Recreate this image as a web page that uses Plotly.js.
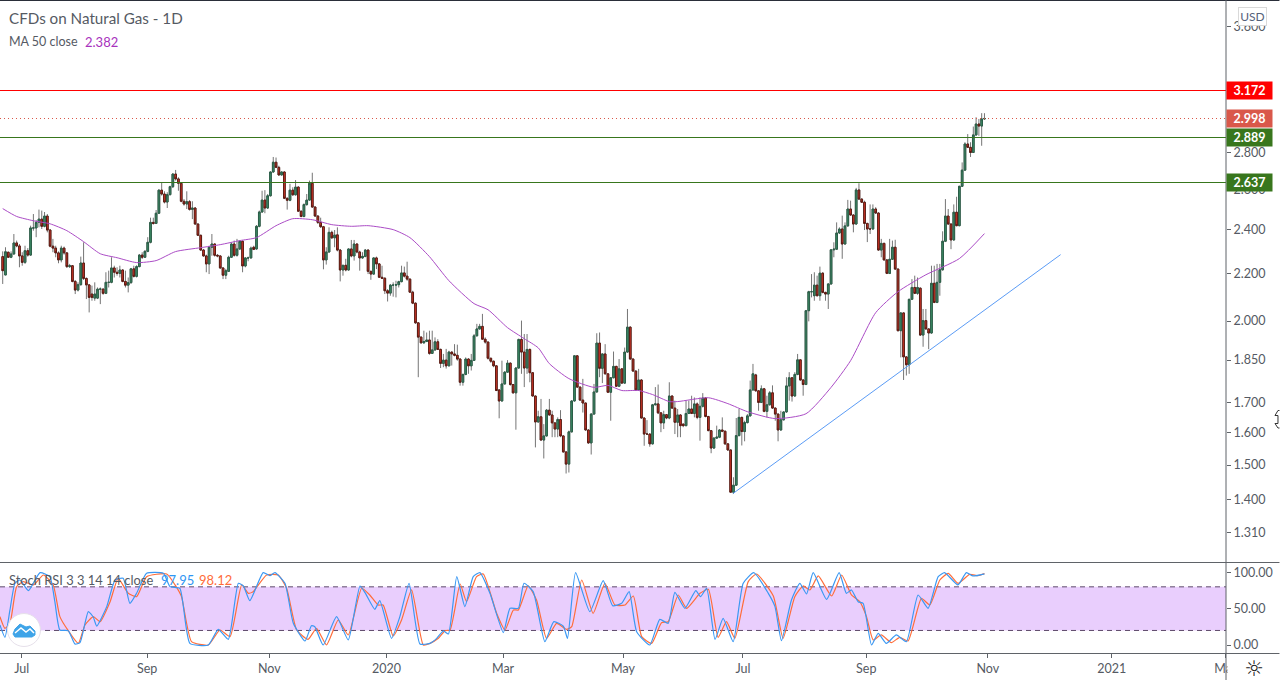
<!DOCTYPE html>
<html>
<head>
<meta charset="utf-8">
<script src="https://cdn.plot.ly/plotly-3.0.1.min.js"></script>
<style>
html, body { margin: 0; padding: 0; background: #fff; overflow: hidden; }
#chart { width: 1280px; height: 680px; }
</style>
</head>
<body>
<div id="chart"></div>
<script>
/* daily candles, natural gas */
var openPrices = [
2.275,2.193,2.295,2.272,2.287,2.338,2.324,2.278,2.249,2.302,2.282,2.409,2.409,2.436,2.452,2.417,2.467,2.399,2.323,2.314,
2.292,2.260,2.314,2.292,2.230,2.234,2.165,2.128,2.151,2.246,2.178,2.150,2.111,2.094,2.094,2.132,2.132,2.114,2.161,2.161,
2.224,2.205,2.200,2.215,2.165,2.149,2.160,2.220,2.187,2.230,2.282,2.272,2.299,2.341,2.436,2.431,2.481,2.598,2.578,2.537,
2.575,2.616,2.683,2.657,2.634,2.541,2.527,2.539,2.500,2.507,2.428,2.374,2.305,2.278,2.242,2.318,2.333,2.281,2.278,2.224,
2.192,2.209,2.272,2.333,2.281,2.310,2.346,2.233,2.269,2.269,2.318,2.310,2.417,2.487,2.547,2.507,2.569,2.694,2.747,2.719,
2.678,2.694,2.556,2.546,2.598,2.574,2.614,2.491,2.465,2.524,2.547,2.634,2.512,2.467,2.436,2.415,2.260,2.296,2.388,2.362,
2.376,2.305,2.215,2.236,2.215,2.310,2.278,2.333,2.296,2.269,2.276,2.305,2.209,2.197,2.269,2.242,2.183,2.179,2.125,2.115,
2.149,2.149,2.151,2.164,2.202,2.188,2.175,2.119,2.073,1.993,1.937,1.915,1.920,1.926,1.875,1.888,1.919,1.890,1.838,1.850,
1.829,1.880,1.873,1.868,1.854,1.770,1.798,1.854,1.829,1.849,1.942,1.969,1.979,1.929,1.918,1.857,1.846,1.829,1.743,1.705,
1.764,1.806,1.839,1.762,1.733,1.821,1.928,1.880,1.821,1.890,1.804,1.722,1.635,1.652,1.577,1.590,1.674,1.658,1.632,1.612,
1.643,1.590,1.540,1.503,1.603,1.705,1.866,1.753,1.708,1.698,1.609,1.568,1.661,1.736,1.914,1.820,1.873,1.800,1.735,1.786,
1.827,1.756,1.818,1.767,1.880,1.976,1.854,1.810,1.743,1.778,1.648,1.596,1.596,1.565,1.692,1.695,1.665,1.632,1.659,
1.648,1.722,1.681,1.634,1.658,1.628,1.623,1.663,1.678,1.663,1.695,1.650,1.687,1.715,1.653,1.607,1.552,1.583,1.586,1.609,
1.605,1.565,1.546,1.421,1.441,1.591,1.650,1.604,1.633,1.655,1.743,1.796,1.740,1.700,1.747,1.670,1.692,1.733,1.681,1.661,
1.609,1.642,1.668,1.757,1.786,1.722,1.798,1.851,1.778,1.762,2.042,2.121,2.104,2.149,2.104,2.201,2.118,2.111,2.154,2.306,
2.309,2.385,2.404,2.333,2.419,2.502,2.472,2.428,2.599,2.552,2.536,2.431,2.404,2.404,2.502,2.482,2.305,2.336,2.260,2.200,
2.263,2.318,2.219,1.962,2.033,1.862,1.833,2.089,2.139,2.114,2.136,1.945,2.002,1.969,1.953,2.157,2.076,2.161,2.216,2.346,
2.467,2.428,2.352,2.486,2.420,2.618,2.704,2.849,2.830,2.801,2.901,2.965,2.953,2.995
];
var closePrices = [
2.212,2.297,2.272,2.287,2.338,2.324,2.278,2.249,2.302,2.282,2.409,2.409,2.436,2.452,2.417,2.467,2.399,2.323,2.314,2.292,
2.260,2.314,2.292,2.230,2.234,2.165,2.128,2.151,2.246,2.178,2.150,2.097,2.097,2.111,2.132,2.132,2.114,2.161,2.161,2.224,
2.205,2.200,2.215,2.165,2.149,2.160,2.220,2.187,2.230,2.282,2.272,2.299,2.341,2.436,2.431,2.481,2.598,2.578,2.537,2.575,
2.616,2.683,2.657,2.634,2.541,2.527,2.539,2.500,2.507,2.428,2.374,2.305,2.278,2.242,2.318,2.333,2.281,2.278,2.224,2.192,
2.212,2.272,2.333,2.281,2.310,2.346,2.233,2.269,2.269,2.314,2.308,2.417,2.487,2.547,2.507,2.569,2.694,2.747,2.719,2.678,
2.694,2.556,2.546,2.598,2.574,2.614,2.491,2.465,2.524,2.547,2.634,2.512,2.467,2.436,2.415,2.260,2.296,2.388,2.362,2.375,
2.305,2.215,2.236,2.215,2.310,2.278,2.333,2.296,2.269,2.276,2.305,2.209,2.197,2.269,2.242,2.183,2.179,2.125,2.115,2.149,
2.149,2.151,2.164,2.202,2.188,2.175,2.119,2.073,1.993,1.937,1.915,1.920,1.926,1.875,1.888,1.919,1.890,1.838,1.850,1.829,
1.880,1.873,1.868,1.854,1.770,1.798,1.854,1.829,1.849,1.942,1.969,1.979,1.929,1.918,1.857,1.846,1.829,1.741,1.705,1.764,
1.806,1.839,1.762,1.733,1.821,1.928,1.880,1.821,1.890,1.804,1.722,1.635,1.652,1.577,1.590,1.674,1.658,1.632,1.612,1.643,
1.590,1.540,1.503,1.603,1.705,1.866,1.753,1.708,1.698,1.609,1.568,1.661,1.736,1.914,1.820,1.873,1.800,1.735,1.786,1.827,
1.756,1.818,1.767,1.880,1.976,1.854,1.810,1.743,1.778,1.648,1.596,1.596,1.565,1.692,1.695,1.665,1.632,1.659,1.648,
1.722,1.681,1.634,1.658,1.623,1.623,1.663,1.678,1.663,1.695,1.650,1.687,1.715,1.653,1.607,1.552,1.583,1.586,1.609,1.605,
1.565,1.546,1.421,1.441,1.591,1.650,1.604,1.633,1.655,1.743,1.800,1.740,1.700,1.747,1.670,1.692,1.733,1.681,1.661,1.609,
1.642,1.668,1.757,1.786,1.722,1.798,1.851,1.778,1.762,2.042,2.121,2.121,2.149,2.104,2.201,2.118,2.111,2.154,2.306,2.309,
2.385,2.404,2.333,2.419,2.502,2.472,2.428,2.599,2.552,2.536,2.431,2.404,2.404,2.502,2.482,2.305,2.336,2.260,2.200,2.263,
2.318,2.219,1.962,2.033,1.862,1.833,2.089,2.139,2.114,2.139,1.945,2.002,1.969,1.953,2.157,2.076,2.161,2.216,2.346,2.467,
2.428,2.352,2.486,2.420,2.618,2.704,2.849,2.830,2.801,2.901,2.965,2.953,2.995,2.998
];
var highPrices = [
2.299,2.318,2.297,2.299,2.380,2.349,2.333,2.295,2.325,2.314,2.420,2.477,2.447,2.499,2.494,2.487,2.477,2.404,2.357,2.325,
2.299,2.325,2.321,2.295,2.242,2.237,2.171,2.161,2.275,2.341,2.182,2.154,2.147,2.161,2.139,2.139,2.135,2.205,2.212,2.272,
2.234,2.227,2.234,2.218,2.212,2.182,2.224,2.234,2.236,2.287,2.295,2.305,2.365,2.459,2.459,2.497,2.602,2.639,2.592,2.587,
2.621,2.687,2.705,2.666,2.639,2.552,2.592,2.547,2.541,2.511,2.431,2.377,2.310,2.284,2.325,2.380,2.336,2.287,2.281,2.227,
2.220,2.279,2.340,2.349,2.357,2.349,2.349,2.272,2.275,2.321,2.325,2.423,2.494,2.595,2.598,2.578,2.698,2.776,2.773,2.728,
2.698,2.698,2.561,2.631,2.613,2.651,2.618,2.494,2.530,2.578,2.648,2.690,2.515,2.471,2.459,2.419,2.318,2.412,2.396,2.399,
2.412,2.310,2.234,2.265,2.313,2.352,2.352,2.336,2.302,2.295,2.310,2.308,2.212,2.272,2.275,2.245,2.234,2.182,2.132,2.154,
2.161,2.168,2.168,2.234,2.230,2.252,2.178,2.125,2.076,1.996,1.940,1.962,1.955,1.962,1.962,1.936,1.929,1.893,1.873,1.892,
1.885,1.882,1.910,1.908,1.857,1.800,1.860,1.857,1.873,1.949,1.989,1.989,2.029,1.936,1.920,1.858,1.848,1.831,1.745,1.848,
1.810,1.850,1.841,1.764,1.824,1.931,2.002,1.949,1.949,1.893,1.806,1.724,1.672,1.712,1.628,1.678,1.712,1.672,1.634,1.650,
1.674,1.592,1.542,1.607,1.708,1.868,1.868,1.755,1.782,1.700,1.612,1.664,1.764,1.952,1.955,1.875,1.910,1.802,1.788,1.882,
1.829,1.854,1.820,1.897,2.049,1.979,1.857,1.812,1.818,1.781,1.650,1.641,1.598,1.695,1.753,1.762,1.667,1.672,1.661,
1.770,1.724,1.706,1.678,1.661,1.630,1.706,1.706,1.723,1.717,1.700,1.717,1.732,1.717,1.655,1.609,1.586,1.623,1.612,1.650,
1.607,1.567,1.548,1.464,1.648,1.678,1.652,1.639,1.661,1.776,1.836,1.800,1.742,1.759,1.750,1.723,1.739,1.759,1.683,1.663,
1.672,1.670,1.788,1.806,1.788,1.806,1.873,1.853,1.781,2.045,2.125,2.197,2.205,2.190,2.230,2.205,2.121,2.157,2.309,2.341,
2.436,2.412,2.469,2.436,2.548,2.544,2.477,2.610,2.634,2.556,2.544,2.434,2.525,2.525,2.511,2.486,2.357,2.339,2.263,2.357,
2.349,2.353,2.222,2.035,2.035,1.865,2.091,2.175,2.190,2.182,2.139,2.049,2.049,1.971,2.234,2.234,2.242,2.242,2.393,2.552,
2.502,2.431,2.525,2.564,2.621,2.746,2.859,2.906,2.859,2.950,3.005,2.995,3.030,3.030
];
var lowPrices = [
2.154,2.193,2.269,2.268,2.284,2.318,2.227,2.234,2.242,2.275,2.279,2.396,2.365,2.412,2.404,2.412,2.388,2.318,2.295,2.272,
2.245,2.249,2.284,2.224,2.224,2.161,2.111,2.122,2.147,2.171,2.090,2.035,2.083,2.083,2.090,2.069,2.108,2.111,2.139,2.157,
2.182,2.190,2.182,2.161,2.139,2.118,2.154,2.182,2.182,2.227,2.264,2.269,2.295,2.336,2.425,2.428,2.477,2.570,2.530,2.507,
2.570,2.609,2.648,2.595,2.536,2.519,2.502,2.494,2.452,2.425,2.371,2.302,2.275,2.205,2.197,2.279,2.275,2.272,2.220,2.175,
2.175,2.206,2.269,2.275,2.275,2.305,2.205,2.227,2.254,2.266,2.305,2.307,2.412,2.484,2.481,2.502,2.565,2.690,2.715,2.675,
2.675,2.552,2.499,2.541,2.569,2.570,2.487,2.461,2.461,2.519,2.544,2.507,2.464,2.428,2.409,2.218,2.239,2.293,2.357,2.318,
2.299,2.165,2.190,2.209,2.212,2.272,2.257,2.290,2.212,2.265,2.272,2.197,2.172,2.194,2.219,2.182,2.176,2.111,2.080,2.104,
2.100,2.097,2.139,2.161,2.182,2.168,2.117,2.069,1.989,1.788,1.912,1.912,1.918,1.870,1.873,1.885,1.888,1.821,1.824,1.819,
1.827,1.830,1.864,1.848,1.758,1.758,1.795,1.800,1.812,1.847,1.940,1.966,1.927,1.912,1.852,1.840,1.824,1.739,1.647,1.703,
1.762,1.804,1.758,1.730,1.610,1.819,1.800,1.753,1.800,1.770,1.720,1.554,1.633,1.575,1.520,1.588,1.656,1.586,1.586,1.586,
1.586,1.538,1.475,1.478,1.601,1.703,1.750,1.706,1.666,1.607,1.565,1.532,1.659,1.734,1.788,1.767,1.798,1.733,1.639,1.784,
1.753,1.753,1.764,1.764,1.878,1.852,1.807,1.741,1.741,1.646,1.559,1.594,1.556,1.563,1.690,1.661,1.602,1.612,1.644,
1.644,1.678,1.596,1.586,1.586,1.618,1.621,1.661,1.661,1.650,1.644,1.575,1.683,1.650,1.605,1.536,1.549,1.581,1.583,1.602,
1.562,1.544,1.419,1.416,1.439,1.589,1.560,1.573,1.630,1.653,1.741,1.737,1.672,1.698,1.667,1.650,1.690,1.678,1.639,1.573,
1.607,1.640,1.665,1.706,1.703,1.720,1.795,1.776,1.723,1.760,1.999,2.097,2.083,2.101,2.083,2.114,2.083,2.049,2.151,2.272,
2.306,2.380,2.265,2.330,2.415,2.469,2.388,2.425,2.547,2.533,2.399,2.342,2.380,2.401,2.477,2.302,2.272,2.257,2.197,2.197,
2.260,2.216,1.959,1.860,1.778,1.794,1.800,2.086,2.111,2.108,1.942,1.900,1.966,1.891,1.950,2.073,2.073,2.104,2.212,2.342,
2.425,2.309,2.349,2.417,2.417,2.615,2.701,2.826,2.776,2.798,2.896,2.896,2.839,2.989
];

/* 50 day average */
var maDays = [0,5,11,17,23,29,35,41,48,55,62,71,78,85,91,98,104,111,118,125,131,140,146,153,160,169,174,181,187,192,196,203,212,217,222,228,233,239,242,253,260,267,277,288,297,304,313,321,331,343,352];
var maValues = [2.504,2.465,2.444,2.429,2.396,2.344,2.288,2.270,2.248,2.257,2.298,2.316,2.330,2.349,2.363,2.420,2.454,2.449,2.425,2.417,2.420,2.401,2.363,2.275,2.168,2.071,2.046,1.974,1.931,1.896,1.837,1.783,1.752,1.759,1.741,1.741,1.727,1.703,1.703,1.716,1.696,1.669,1.646,1.662,1.752,1.848,2.034,2.121,2.194,2.266,2.382];

/* trend line and horizontal levels */
var trendDays = [261.8, 379.3];
var trendPrices = [1.417, 2.284];
var levelPrices = [3.172, 2.998, 2.889, 2.637];
var levelLabels = ['3.172', '2.998', '2.889', '2.637'];
var levelColors = ['#ff0000', '#d9584a', '#38761d', '#38761d'];
var levelDashes = ['solid', 'dot', 'solid', 'solid'];

/* stoch rsi */
var kDays = [-1,0.8,2.6,4.4,6.2,9.2,13.4,16.9,18.7,20.5,23.5,25.9,27.7,30.7,32.5,33.7,37.3,40.3,43.2,45.6,48,51.6,57.6,60,63.5,67.1,73.7,77.3,80.9,84.5,86.3,88.6,93.4,95.8,97.6,101.2,104.2,108.4,110.7,111.9,114.9,119.7,123.9,128.1,129.9,133.4,135.2,139.4,142.4,145.7,149.6,153.2,155.6,158,159.8,162.8,165.7,168.7,171.1,174.7,179.5,181.9,184.9,186.9,190.2,194.4,197.6,201,202.5,205.4,210.5,215.3,218.7,221.9,224.6,227.3,232,235.6,238.6,241,244.6,248.5,250.2,252.4,255.4,258.3,261.9,265.5,269.3,274.5,276.9,279.2,282.8,285.8,288.2,290.6,295.4,299.9,302.5,304.3,306.7,308.5,311.5,313.9,316.8,320.4,324,328.2,331.8,335.4,337.7,342.5,345.5,347.9,352];
var kValues = [27.5,10.6,48.2,84.9,89.4,74.8,99.5,94,59.6,20.6,19.7,1.4,3.2,45.9,38.1,26.1,52.8,89.4,91.7,57.3,71.1,98.6,98.6,80.3,78,2.3,0,21.6,7.8,84.9,81.2,61,99.5,95.4,99.5,84.9,29.8,5.5,26.6,25.2,0,39,6.9,81.2,72,49.1,61,9.2,39,84.9,1.4,2.3,9.2,19.3,15.1,94,52.8,94,99.5,71.1,17,50.5,50.5,84.9,73.4,4.6,32.1,26.1,9.2,99.5,45.9,88.5,54.1,57.3,73.4,18.3,0,35.3,29.8,72.5,50.5,74.8,66.5,78,7.8,36.7,4.6,84.9,99.5,71.1,52.8,6,61.9,84.9,70.2,99.5,62.8,99.5,71.1,75.7,59.6,57.3,0,16.1,2.3,13.8,4.6,68.8,50.5,94,99.5,82.6,99.5,95,97.95];
var dDays = [-1,0.8,2.6,5,7.4,11,14.6,18.1,20.5,23.5,27.1,29.5,32.5,34.9,38.5,41.4,45,48,51.6,58.8,61.8,64.1,67.7,73.7,77.9,81.5,85.7,88.1,89.8,94.6,98.8,101.8,105.4,109.5,112.5,116.1,120.3,123.9,128.7,131.6,134.6,136.4,140,143,146.6,150.8,153.2,156.2,158.6,160.4,164,166.3,169.9,172.3,177.1,180.1,183.1,184.9,188.4,191.4,195,198.6,202.2,204,207.6,211.7,215.9,219.5,223.1,226.1,229.1,232.7,236.2,238.6,242.2,245.2,250,253,256.5,259.5,262.5,267.3,270.3,276.3,279.8,284,287,289.4,292.4,297.2,300.8,304.3,307.3,309.7,312.1,315,318.6,321.6,324.6,329.4,332.4,336,339,342.5,346.7,349.7,352];
var dValues = [39,22.9,29.8,80.3,87.2,82.6,96.3,82.6,39,19.7,2.3,27.5,39,32.1,59.6,91.7,71.1,66.5,94,97.7,82.6,66.5,4.6,0,20.6,11.5,82.6,71.1,73.4,96.3,96.3,78,20.6,7.8,22.9,0,34.4,13.8,78,68.8,55,55,12.4,34.4,75.7,0,2.3,9.2,19.7,20.6,83.9,59.6,94,97.7,43.6,20.6,48.2,48.2,81.2,61.9,9.2,29.8,21.6,25.2,89.4,43.6,84.9,55,55,67.4,11.5,2.3,30.7,32.1,68.8,50.5,71.1,76.6,10.6,32.1,9.2,87.2,97.7,67.4,9.2,66.5,81.2,75.7,95,67.4,96.3,68.8,59.6,39,6.9,13.8,3.2,10.6,5.5,64.2,55,89.4,98.6,84.9,97.2,95.4,98.12];
var bandLevels = [20, 80];

/* axes */
var priceTicks = [1.31, 1.4, 1.5, 1.6, 1.7, 1.85, 2, 2.2, 2.4, 2.6, 2.8, 3.6];
var priceTickLabels = ['1.310', '1.400', '1.500', '1.600', '1.700', '1.850', '2.000', '2.200', '2.400', '2.600', '2.800', '3.600'];
var stochTicks = [0, 50, 100];
var stochTickLabels = ['0.00', '50.00', '100.00'];
var timeTicks = [6.8, 51.8, 95.6, 137.6, 179.4, 222.4, 265.4, 309.6, 353.2, 397.6, 438.4];
var timeTickLabels = ['Jul', 'Sep', 'Nov', '2020', 'Mar', 'May', 'Jul', 'Sep', 'Nov', '2021', 'Mar'];

var barDays = openPrices.map(function (v, i) { return i; });
var dayRange = [-0.97, 438.6];
var font = 'Lato, "Open Sans", sans-serif';
var textGrey = '#555a63';

function px(x) { return x / 1226.5; }
function py(y) { return (653 - y) / 652; }
function pathOf(points) {
  return points.map(function (p, i) { return (i ? 'L ' : 'M ') + px(p[0]) + ' ' + py(p[1]); }).join(' ');
}

var traces = [];

/* wicks first, in grey */
traces.push({
  type: 'candlestick', x: barDays, open: openPrices, high: highPrices, low: lowPrices, close: closePrices,
  xaxis: 'x', yaxis: 'y', whiskerwidth: 0,
  increasing: { line: { color: '#757575', width: 1 }, fillcolor: '#757575' },
  decreasing: { line: { color: '#757575', width: 1 }, fillcolor: '#757575' }
});
/* bodies on top, dark edge */
traces.push({
  type: 'candlestick', x: barDays, open: openPrices, close: closePrices,
  high: openPrices.map(function (v, i) { return Math.max(v, closePrices[i]); }),
  low: openPrices.map(function (v, i) { return Math.min(v, closePrices[i]); }),
  xaxis: 'x', yaxis: 'y', whiskerwidth: 0,
  increasing: { line: { color: '#2b5e48', width: 1 }, fillcolor: '#3e9068' },
  decreasing: { line: { color: '#5a1a12', width: 1 }, fillcolor: '#e0392a' }
});
traces.push({ type: 'scatter', mode: 'lines', x: maDays, y: maValues, xaxis: 'x', yaxis: 'y', line: { color: '#ab4cc6', width: 1, shape: 'spline', smoothing: 0.6 } });
traces.push({ type: 'scatter', mode: 'lines', x: trendDays, y: trendPrices, xaxis: 'x', yaxis: 'y', line: { color: '#5b9cf6', width: 1 } });
levelPrices.forEach(function (p, i) {
  traces.push({
    type: 'scatter', mode: 'lines', x: dayRange, y: [p, p], xaxis: 'x', yaxis: 'y',
    line: { color: levelColors[i], width: 1, dash: levelDashes[i] === 'dot' ? '1px,3px' : 'solid' }
  });
});
traces.push({ type: 'scatter', mode: 'lines', x: dDays, y: dValues, xaxis: 'x2', yaxis: 'y2', line: { color: '#ff6d3a', width: 1.2, shape: 'spline', smoothing: 0.5 } });
traces.push({ type: 'scatter', mode: 'lines', x: kDays, y: kValues, xaxis: 'x2', yaxis: 'y2', line: { color: '#3a98f3', width: 1.2, shape: 'spline', smoothing: 0.5 } });

function sideText(text, x, y, size, color, weight) {
  return {
    text: text, xref: 'paper', yref: 'paper', x: px(x), y: py(y), xanchor: 'left', yanchor: 'middle',
    showarrow: false, font: { family: font, size: size, color: color, weight: weight || 400 }
  };
}

var annotations = [
  sideText('CFDs on Natural Gas - 1D', 7, 17.5, 15.2, textGrey),
  sideText('MA 50 close', 7, 41.5, 12.5, textGrey),
  sideText('2.382', 83, 41.5, 13, '#a832bd'),
  sideText('Stoch RSI 3 3 14 14 close', 7, 579.5, 12.9, textGrey),
  sideText('97.95', 159, 579.5, 13, '#2f96f3'),
  sideText('98.12', 197, 579.5, 13, '#ff6d3a')
];

/* price tags on the scale */
levelPrices.forEach(function (p, i) {
  annotations.push({
    text: '<b>' + levelLabels[i] + '</b>', xref: 'paper', yref: 'y', x: px(1226), y: Math.log10(p),
    xanchor: 'left', yanchor: 'middle', showarrow: false, width: 45, height: 17, borderpad: 0,
    align: 'center', bgcolor: levelColors[i], font: { family: font, size: 12.5, color: '#ffffff' }
  });
});
annotations.push({
  text: 'USD', xref: 'paper', yref: 'paper', x: px(1253), y: py(16.5), xanchor: 'center', yanchor: 'middle',
  showarrow: false, width: 27, height: 17, borderpad: 0, bgcolor: '#ffffff', bordercolor: '#d9d9d9', borderwidth: 1,
  font: { family: font, size: 12, color: '#55617a' }
});
/* corner cell, hides the end of the last time label */
annotations.push({
  text: '☼', xref: 'paper', yref: 'paper', x: px(1227.5), y: py(654), xanchor: 'left', yanchor: 'top',
  showarrow: false, width: 52, height: 26, borderpad: 0, bgcolor: '#ffffff',
  font: { family: 'DejaVu Sans', size: 22, color: '#222222' }
});

var lineColor = '#5f6368';
var shapes = [
  { type: 'rect', xref: 'paper', yref: 'y2', x0: 0, x1: 1, y0: bandLevels[0], y1: bandLevels[1], fillcolor: '#e9cefd', line: { width: 0 }, layer: 'below' },
  { type: 'line', xref: 'paper', yref: 'y2', x0: 0, x1: 1, y0: bandLevels[0], y1: bandLevels[0], line: { color: '#5d4a6a', width: 1, dash: '5px,4px' }, layer: 'below' },
  { type: 'line', xref: 'paper', yref: 'y2', x0: 0, x1: 1, y0: bandLevels[1], y1: bandLevels[1], line: { color: '#5d4a6a', width: 1, dash: '5px,4px' }, layer: 'below' },
  { type: 'line', xref: 'paper', yref: 'paper', x0: 0, x1: px(1280), y0: py(0.5), y1: py(0.5), line: { color: '#2a2e39', width: 1 } },
  { type: 'line', xref: 'paper', yref: 'paper', x0: 0, x1: px(1280), y0: py(562.5), y1: py(562.5), line: { color: lineColor, width: 1 } },
  { type: 'line', xref: 'paper', yref: 'paper', x0: 0, x1: px(1280), y0: py(653.5), y1: py(653.5), line: { color: lineColor, width: 1 } },
  { type: 'line', xref: 'paper', yref: 'paper', x0: 1, x1: 1, y0: py(0), y1: py(680), line: { color: lineColor, width: 1 } },
  /* logo badge */
  { type: 'circle', xref: 'paper', yref: 'paper', x0: px(7.5), x1: px(40.5), y0: py(613.5), y1: py(646.5), fillcolor: '#ffffff', line: { color: '#e6e0ea', width: 1 } },
  { type: 'path', xref: 'paper', yref: 'paper', fillcolor: '#3fa4e8', line: { color: '#3fa4e8', width: 1 },
    path: pathOf([[13, 634], [15, 629], [20, 624], [26, 627], [30, 626], [35, 631], [35, 635], [32, 637], [15, 637]]) + ' Z' },
  { type: 'path', xref: 'paper', yref: 'paper', line: { color: '#ffffff', width: 1.5 },
    path: pathOf([[15, 633], [21, 628], [26, 632], [30, 629], [34, 633]]) },
  /* cursor cut off at the right edge */
  { type: 'path', xref: 'paper', yref: 'paper', line: { color: '#333333', width: 1 },
    path: pathOf([[1280, 410.5], [1278.5, 410.5], [1275.5, 415.5], [1278.5, 415.5], [1278.5, 423.5], [1275.5, 423.5], [1278.5, 428], [1280, 428]]) }
];

var layout = {
  width: 1280, height: 680, showlegend: false, paper_bgcolor: '#ffffff', plot_bgcolor: '#ffffff',
  margin: { l: 0, r: 53.5, t: 1, b: 27, pad: 0 }, boxmode: 'overlay', boxgap: 0.15,
  font: { family: font, size: 12, color: textGrey },
  xaxis: { domain: [0, 1], range: dayRange, anchor: 'y', rangeslider: { visible: false }, showticklabels: false, showgrid: false, zeroline: false, ticks: '' },
  yaxis: { domain: [py(562), 1], type: 'log', range: [Math.log10(1.236), Math.log10(3.791)], side: 'right', anchor: 'x',
    tickmode: 'array', tickvals: priceTicks, ticktext: priceTickLabels, showgrid: false, zeroline: false,
    ticks: 'outside', ticklen: 4, tickcolor: lineColor, tickfont: { family: font, size: 12.5, color: textGrey } },
  xaxis2: { domain: [0, 1], range: dayRange, anchor: 'y2', showgrid: false, zeroline: false, tickmode: 'array', tickvals: timeTicks, ticktext: timeTickLabels,
    ticks: 'outside', ticklen: 4, tickcolor: lineColor, tickangle: 0, tickfont: { family: font, size: 12.5, color: textGrey } },
  yaxis2: { domain: [0, py(563)], range: [-11, 112.8], side: 'right', anchor: 'x2', showgrid: false, zeroline: false,
    tickmode: 'array', tickvals: stochTicks, ticktext: stochTickLabels,
    ticks: 'outside', ticklen: 4, tickcolor: lineColor, tickfont: { family: font, size: 12.5, color: textGrey } },
  annotations: annotations, shapes: shapes
};

Plotly.newPlot('chart', traces, layout, { staticPlot: true, displayModeBar: false }).then(function () {
  /* level lines stay sharp, one pixel */
  var lines = document.querySelectorAll('.subplot.xy .scatterlayer .trace');
  for (var i = 2; i < lines.length; i++) {
    lines[i].querySelector('path.js-line').style.shapeRendering = 'crispEdges';
  }
});
</script>
</body>
</html>
